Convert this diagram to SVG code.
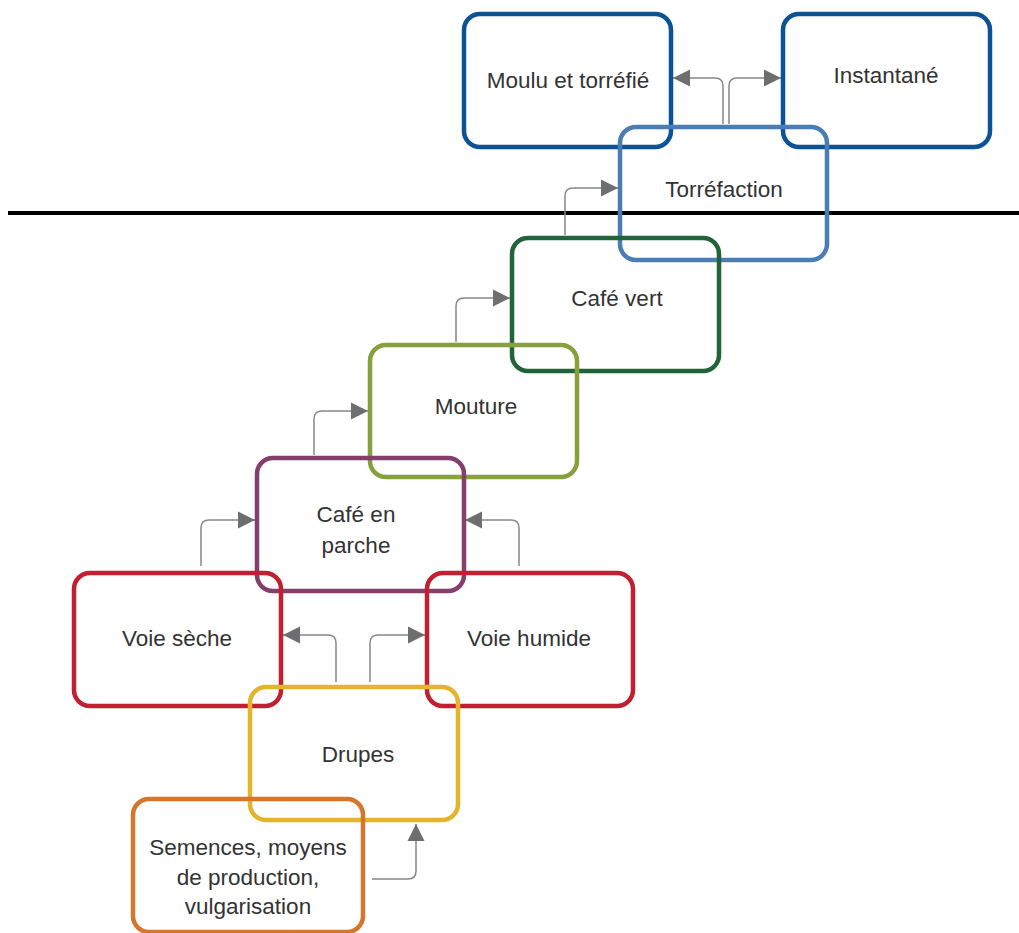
<svg xmlns="http://www.w3.org/2000/svg" width="1019" height="933" viewBox="0 0 1019 933">
<style>
.box{fill:none;stroke-width:4.5;}
.lbl{font-family:"Liberation Sans",Arial,sans-serif;font-size:22.5px;fill:#333;text-anchor:middle;}
.con{fill:none;stroke:#888;stroke-width:1.5;}
</style>
<defs>
<marker id="ah" markerUnits="userSpaceOnUse" markerWidth="20" markerHeight="20" viewBox="0 0 20 20" refX="18" refY="10" orient="auto">
<path d="M1,1.5 L18,10 L1,18.5 Z" fill="#6d6e70"/>
</marker>
</defs>
<rect x="0" y="0" width="1019" height="933" fill="#fff"/>
<line x1="8" y1="213" x2="1019" y2="213" stroke="#000" stroke-width="4"/>
<g id="connectors">
<path class="con" marker-end="url(#ah)" d="M723,124 V86 Q723,78 715,78 H673"/>
<path class="con" marker-end="url(#ah)" d="M729,124 V86 Q729,78 737,78 H781"/>
<path class="con" marker-end="url(#ah)" d="M565,235 V196 Q565,188 573,188 H618"/>
<path class="con" marker-end="url(#ah)" d="M456,342 V306 Q456,298 464,298 H510"/>
<path class="con" marker-end="url(#ah)" d="M314,455 V419 Q314,411 322,411 H368"/>
<path class="con" marker-end="url(#ah)" d="M201,566 V528 Q201,520 209,520 H255"/>
<path class="con" marker-end="url(#ah)" d="M519,566 V528 Q519,520 511,520 H465"/>
<path class="con" marker-end="url(#ah)" d="M336,682 V643 Q336,635 328,635 H283"/>
<path class="con" marker-end="url(#ah)" d="M370,682 V643 Q370,635 378,635 H425"/>
<path class="con" marker-end="url(#ah)" d="M372,879 H408 Q416,879 416,871 V824"/>
</g>
<g id="moulu">
<rect class="box" x="464" y="14" width="207" height="133" rx="16" stroke="#0b5394"/>
<text class="lbl" x="568" y="88">Moulu et torréfié</text>
</g>
<g id="instantane">
<rect class="box" x="783" y="14" width="207" height="133" rx="16" stroke="#0b5394"/>
<text class="lbl" x="886" y="83">Instantané</text>
</g>
<g id="torrefaction">
<rect class="box" x="620" y="127" width="207" height="133" rx="16" stroke="#4a7db3"/>
<text class="lbl" x="724" y="197">Torréfaction</text>
</g>
<g id="cafevert">
<rect class="box" x="512" y="238" width="207" height="133" rx="16" stroke="#22643a"/>
<text class="lbl" x="617" y="306">Café vert</text>
</g>
<g id="mouture">
<rect class="box" x="370" y="345" width="207" height="132" rx="16" stroke="#86a03c"/>
<text class="lbl" x="476" y="414">Mouture</text>
</g>
<g id="parche">
<rect class="box" x="257" y="458" width="207" height="133" rx="16" stroke="#843f6d"/>
<text class="lbl" x="356" y="522">Café en</text>
<text class="lbl" x="356" y="553">parche</text>
</g>
<g id="voieseche">
<rect class="box" x="74" y="573" width="207" height="133" rx="16" stroke="#c0202f"/>
<text class="lbl" x="177" y="646">Voie sèche</text>
</g>
<g id="voiehumide">
<rect class="box" x="427" y="573" width="206" height="133" rx="16" stroke="#c0202f"/>
<text class="lbl" x="529" y="646">Voie humide</text>
</g>
<g id="drupes">
<rect class="box" x="250" y="687" width="208" height="133" rx="16" stroke="#e2b52b"/>
<text class="lbl" x="358" y="762">Drupes</text>
</g>
<g id="semences">
<rect class="box" x="133" y="799" width="230" height="133" rx="16" stroke="#d4762c"/>
<text class="lbl" x="248" y="855">Semences, moyens</text>
<text class="lbl" x="248" y="885">de production,</text>
<text class="lbl" x="248" y="914">vulgarisation</text>
</g>
</svg>
